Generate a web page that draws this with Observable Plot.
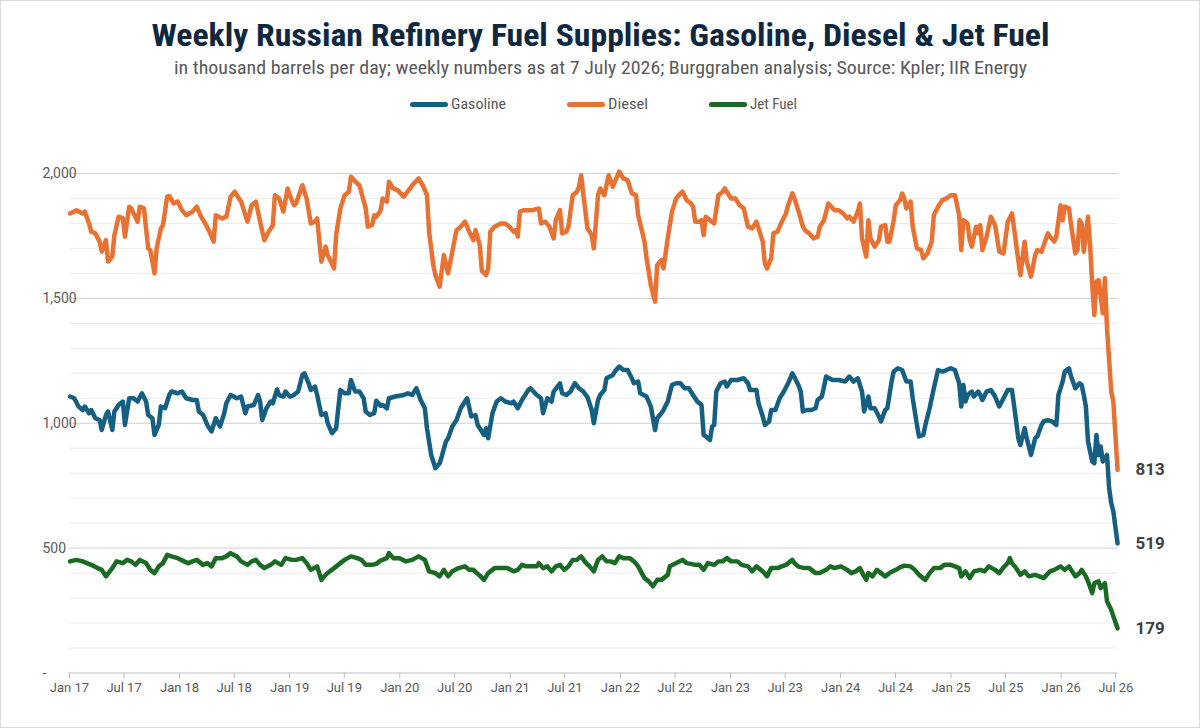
<!DOCTYPE html>
<html>
<head>
<meta charset="utf-8">
<script src="https://cdn.jsdelivr.net/npm/d3@7"></script>
<script src="https://cdn.jsdelivr.net/npm/@observablehq/plot@0.6"></script>
<style>
  html, body { margin: 0; padding: 0; background: #fff; }
  #frame { position: relative; width: 1200px; height: 728px; box-sizing: border-box; border: 1px solid #d9d9d9; overflow: hidden; font-family: "Liberation Sans Narrow", "Roboto Condensed", Roboto, sans-serif; }
  .row { position: absolute; left: -1px; width: 1200px; text-align: center; white-space: nowrap; }
  .fit { display: inline-block; transform-origin: center center; }
  #title { top: 15px; height: 40px; line-height: 40px; font-size: 31px; font-weight: bold; color: #0E2841; }
  #subtitle { top: 56px; height: 22px; line-height: 22px; font-size: 18px; color: #595959; }
  .lg-sw { position: absolute; height: 5px; border-radius: 3px; top: 101px; }
  .lg-tx { position: absolute; top: 94px; height: 18px; line-height: 18px; font-size: 14px; color: #595959; white-space: nowrap; transform-origin: left center; }
  #chart { position: absolute; left: -1px; top: 117px; }
</style>
</head>
<body>
<div id="frame">
  <div id="title" class="row"><span class="fit" data-w="898">Weekly Russian Refinery Fuel Supplies: Gasoline, Diesel &amp; Jet Fuel</span></div>
  <div id="subtitle" class="row"><span class="fit" data-w="853">in thousand barrels per day; weekly numbers as at 7 July 2026; Burggraben analysis; Source: Kpler; IIR Energy</span></div>
  <div id="legend"></div>
  <div id="chart"></div>
</div>
<script>
// ---------------- data (weeks counted from 3 Jan 2017; values in kb/d) ----------------
const seriesNames = ["Gasoline", "Diesel", "Jet Fuel"];
const seriesColors = ["#156082", "#E97132", "#196B24"];

const gasolineWeeks = [0,2,4,6,7,9,10,12,14,15,17,18,20,21,23,25,26,28,30,32,34,36,37,39,40,42,43,45,47,48,51,53,55,58,60,61,63,65,67,69,71,73,74,76,79,81,83,84,87,89,90,91,93,95,96,98,99,101,102,104,106,108,110,111,113,114,116,117,119,121,122,124,126,127,128,130,132,133,135,137,139,140,142,144,145,147,148,150,151,154,158,160,162,164,166,168,169,171,173,175,176,178,179,181,183,185,187,188,190,192,193,195,196,197,198,200,202,204,206,209,210,212,214,217,218,221,223,224,226,228,229,232,233,235,237,239,241,243,245,247,248,250,251,253,254,257,258,260,262,264,266,267,269,270,273,275,277,278,280,281,283,285,287,289,291,293,295,297,299,300,301,303,304,305,306,308,310,311,313,316,319,321,322,325,326,328,329,331,332,334,336,338,340,342,343,345,346,347,349,351,353,354,356,358,361,364,367,369,371,373,375,376,378,379,381,383,384,386,387,389,390,392,394,396,398,399,401,402,404,405,407,409,411,413,415,417,419,421,422,423,424,425,427,428,430,431,432,434,436,438,440,442,444,446,448,449,450,452,453,455,457,458,460,461,463,465,467,468,470,471,473,474,476,478,479,480,481,482,484,485,486,487,488,489,491,492,493,494,496];
const gasolineValues = [1107,1100,1067,1053,1067,1040,1053,1020,1013,973,1033,1047,973,1047,1073,1087,993,1100,1100,1087,1120,1087,1033,1020,953,993,1067,1060,1113,1127,1120,1127,1100,1093,1093,1047,1033,993,967,1020,987,1040,1080,1113,1100,1107,1040,1067,1073,1113,1087,1013,1060,1087,1080,1135,1113,1107,1127,1107,1113,1127,1193,1200,1160,1133,1147,1113,1033,1040,1000,960,980,1060,1133,1120,1120,1173,1127,1127,1100,1047,1033,1040,1090,1070,1073,1060,1100,1107,1113,1120,1113,1140,1093,1060,980,873,820,840,867,927,940,987,1013,1060,1087,1100,1027,1033,993,967,953,980,940,1040,1087,1100,1087,1080,1087,1060,1093,1133,1140,1113,1100,1040,1100,1087,1127,1160,1120,1113,1127,1160,1140,1127,1105,1053,1000,1093,1113,1133,1180,1193,1207,1227,1213,1213,1180,1160,1167,1120,1107,1067,973,1020,1040,1053,1087,1153,1160,1160,1140,1140,1113,1087,1073,953,947,933,987,993,1127,1160,1167,1147,1173,1173,1180,1160,1133,1133,1080,1027,993,1007,1053,1053,1100,1127,1160,1200,1185,1150,1127,1047,1053,1053,1060,1093,1107,1187,1173,1173,1167,1187,1167,1180,1127,1047,1107,1060,1060,1027,1007,1053,1060,1167,1207,1220,1213,1167,1167,1100,993,947,953,993,1060,1140,1213,1207,1213,1220,1213,1160,1067,1153,1087,1113,1127,1107,1127,1113,1093,1127,1133,1107,1067,1100,1133,1133,1007,940,913,980,940,873,940,947,993,1007,1013,1007,993,1113,1167,1207,1220,1187,1140,1160,1153,1113,1067,927,847,840,953,873,907,847,873,740,680,647,519];

const dieselWeeks = [0,3,6,7,9,10,12,14,15,17,18,20,21,23,25,26,28,29,32,33,35,37,38,40,41,43,44,46,47,49,51,53,55,58,60,62,64,66,68,69,72,74,76,78,80,81,84,86,88,90,92,94,96,97,99,101,103,104,106,107,110,112,114,116,117,119,121,122,125,126,128,130,132,133,136,137,140,141,143,144,145,147,148,150,151,153,155,158,161,162,165,167,169,170,172,173,175,177,179,181,183,185,187,189,191,192,194,195,197,198,199,201,204,206,208,210,211,212,213,215,219,222,223,225,227,229,230,232,233,235,236,238,240,241,242,243,245,246,247,248,250,251,253,255,257,260,262,264,266,268,269,272,273,275,277,278,280,281,283,285,287,289,290,292,294,295,296,298,299,300,301,303,305,307,309,310,313,315,317,319,321,323,325,326,328,329,330,332,333,335,337,339,340,342,343,345,347,348,350,352,354,355,357,359,362,364,366,368,369,371,373,374,375,377,378,379,381,383,384,386,387,388,390,391,393,394,395,396,398,399,401,403,404,406,408,409,411,413,415,417,419,421,422,423,425,426,427,429,430,431,432,434,436,438,440,442,444,446,447,449,450,452,453,455,457,458,460,461,463,464,466,467,469,470,471,473,474,476,477,478,479,480,482,483,484,485,486,487,489,490,491,493,494,496];
const dieselValues = [1840,1853,1840,1847,1800,1767,1760,1727,1687,1733,1647,1667,1753,1827,1820,1747,1867,1860,1807,1867,1860,1700,1693,1600,1700,1780,1793,1907,1910,1880,1887,1853,1833,1847,1867,1827,1800,1767,1727,1833,1820,1827,1907,1927,1900,1887,1807,1873,1887,1807,1733,1767,1793,1913,1900,1847,1940,1913,1873,1880,1953,1900,1800,1807,1820,1647,1707,1673,1620,1753,1860,1913,1927,1987,1960,1953,1860,1787,1793,1833,1827,1850,1900,1887,1967,1940,1933,1907,1940,1953,1980,1953,1913,1767,1633,1593,1547,1673,1600,1687,1773,1787,1807,1767,1733,1773,1713,1610,1593,1620,1767,1787,1800,1800,1787,1767,1773,1747,1847,1853,1853,1860,1800,1807,1787,1740,1813,1853,1760,1767,1787,1913,1927,1947,1993,1920,1780,1767,1753,1700,1913,1940,1913,1993,1947,2007,1980,1973,1920,1913,1833,1727,1660,1553,1487,1633,1653,1620,1740,1847,1900,1920,1927,1893,1880,1867,1807,1807,1813,1753,1827,1813,1800,1913,1927,1940,1900,1900,1873,1860,1787,1780,1807,1780,1727,1640,1620,1660,1760,1767,1807,1840,1873,1920,1900,1847,1787,1773,1760,1740,1747,1787,1813,1880,1853,1853,1840,1820,1827,1807,1847,1880,1740,1667,1813,1740,1707,1733,1787,1793,1727,1727,1813,1873,1893,1920,1900,1860,1887,1787,1700,1693,1660,1680,1727,1833,1867,1893,1900,1913,1913,1833,1693,1813,1800,1733,1707,1787,1760,1793,1693,1747,1827,1793,1687,1680,1807,1840,1780,1653,1593,1727,1647,1587,1673,1693,1687,1713,1760,1747,1727,1747,1873,1813,1867,1860,1793,1680,1693,1813,1800,1687,1827,1713,1553,1433,1567,1573,1440,1580,1380,1127,1087,813];

const jetWeeks = [0,3,6,8,10,13,15,17,20,22,25,27,29,31,33,36,38,40,42,44,46,48,51,54,56,58,60,63,65,67,69,72,74,76,79,81,84,86,88,90,92,95,97,100,102,105,107,110,112,114,117,119,121,123,125,128,130,133,136,138,140,143,145,147,150,151,153,156,159,162,165,168,170,173,175,177,179,181,184,187,189,191,194,196,198,201,204,207,210,212,214,216,218,221,222,224,226,228,230,232,234,236,238,240,242,244,246,248,250,252,254,256,258,260,262,265,267,269,272,274,276,278,280,283,284,287,290,292,294,296,298,300,302,305,307,309,311,313,316,318,321,323,325,328,330,332,335,337,339,342,343,345,348,350,353,355,358,360,362,365,368,370,372,374,376,377,378,380,382,384,386,388,391,393,395,398,400,402,405,407,409,412,414,417,419,421,422,424,426,428,431,433,435,438,440,442,444,445,446,448,450,452,454,457,459,461,464,466,469,471,473,476,478,479,481,482,484,485,487,488,490,491,493,494,496];
const jetValues = [447,453,447,440,433,420,413,387,420,447,440,453,447,433,453,440,413,400,427,440,473,467,460,447,440,447,453,433,440,427,460,460,467,480,467,447,433,447,453,433,420,433,447,433,460,453,453,460,440,413,427,373,393,407,420,440,453,467,460,453,433,433,437,450,460,480,460,460,447,453,467,453,407,400,387,413,387,407,420,427,413,413,390,373,400,420,420,420,407,413,433,427,427,427,440,420,427,407,427,433,413,427,453,453,467,443,427,407,453,467,447,447,440,467,460,460,447,427,380,367,347,373,373,393,427,440,453,440,437,433,433,413,440,433,447,447,460,447,447,433,427,407,427,407,387,420,420,427,433,453,440,425,420,420,400,400,413,427,420,427,413,400,407,420,387,373,400,387,413,400,387,400,413,423,430,427,413,393,373,400,420,420,433,433,427,420,387,407,380,407,413,407,427,413,400,423,440,460,440,420,393,407,387,393,387,380,407,413,427,413,427,387,400,413,387,367,320,360,367,340,360,287,253,227,179];

const yTicks = [0, 500, 1000, 1500, 2000];
const yTickLabels = ["-", "500", "1,000", "1,500", "2,000"];
const xTickLabels = ["Jan 17","Jul 17","Jan 18","Jul 18","Jan 19","Jul 19","Jan 20","Jul 20","Jan 21","Jul 21","Jan 22","Jul 22","Jan 23","Jul 23","Jan 24","Jul 24","Jan 25","Jul 25","Jan 26","Jul 26"];

// ---------------- build tables ----------------
const weekDate = w => new Date(Date.UTC(2017, 0, 3 + 7 * w));
function toRows(name, weeks, values) {
  return weeks.map((w, i) => ({series: name, date: weekDate(w), value: values[i]}));
}
const gasoline = toRows("Gasoline", gasolineWeeks, gasolineValues);
const diesel = toRows("Diesel", dieselWeeks, dieselValues);
const jet = toRows("Jet Fuel", jetWeeks, jetValues);
const allRows = gasoline.concat(diesel, jet);
const lastPoints = [gasoline, diesel, jet].map(s => s[s.length - 1]);

const monthIdx = {Jan: 0, Jul: 6};
const xTicks = xTickLabels.map(l => {
  const [m, y] = l.split(" ");
  return {date: new Date(Date.UTC(2000 + +y, monthIdx[m], 1)), label: l};
});
const minorY = d3.range(100, 2000, 100).filter(v => v % 500 !== 0);
const yLab = yTicks.map((v, i) => ({value: v, label: yTickLabels[i]}));

const chart = Plot.plot({
  width: 1200,
  height: 611,
  marginLeft: 69,
  marginRight: 82,
  marginTop: 55,
  marginBottom: 56,
  x: {type: "utc", domain: [new Date(Date.UTC(2017, 0, 1)), new Date(Date.UTC(2026, 6, 7))], axis: null},
  y: {domain: [0, 2000], axis: null},
  color: {domain: seriesNames, range: seriesColors},
  style: {fontFamily: "Roboto, 'Open Sans', sans-serif", fontSize: "14px", color: "#595959", background: "white", overflow: "visible"},
  marks: [
    Plot.ruleY(minorY, {stroke: "#ececec", strokeWidth: 1}),
    Plot.ruleY(yTicks.filter(v => v > 0), {stroke: "#d0d0d0", strokeWidth: 1}),
    Plot.ruleY([0], {stroke: "#bfbfbf", strokeWidth: 1}),
    Plot.axisX({ticks: xTicks.map(d => d.date), tickSize: 6, tickFormat: () => "", color: "#bfbfbf"}),
    Plot.text(xTicks, {x: "date", frameAnchor: "bottom", dy: 19, text: "label", fill: "#595959", fontSize: 13}),
    Plot.text(yLab, {y: "value", frameAnchor: "left", textAnchor: "start", dx: -27, text: "label", fill: "#595959", fontSize: 14}),
    Plot.lineY(allRows, {x: "date", y: "value", z: "series", stroke: "series", strokeWidth: 4.5, strokeLinejoin: "round", strokeLinecap: "round"}),
    Plot.text(lastPoints, {x: "date", y: "value", text: d => String(d.value), dx: 18, textAnchor: "start", fontWeight: "bold", fontSize: 17, fill: "#404040"})
  ]
});
document.getElementById("chart").appendChild(chart);

// ---------------- legend ----------------
const legendPos = [{sw: [409, 447], tx: 450, w: 55}, {sw: [566, 604], tx: 607, w: 40}, {sw: [708, 746], tx: 749, w: 47}];
const legend = document.getElementById("legend");
seriesNames.forEach((name, i) => {
  const p = legendPos[i];
  const sw = document.createElement("div");
  sw.className = "lg-sw";
  sw.style.left = p.sw[0] + "px";
  sw.style.width = (p.sw[1] - p.sw[0]) + "px";
  sw.style.background = seriesColors[i];
  legend.appendChild(sw);
  const tx = document.createElement("div");
  tx.className = "lg-tx fitL";
  tx.dataset.w = p.w;
  tx.style.left = p.tx + "px";
  tx.textContent = name;
  legend.appendChild(tx);
});

// fit narrow-font text widths
document.querySelectorAll(".fit, .fitL").forEach(el => {
  const w = el.getBoundingClientRect().width;
  const target = +el.dataset.w;
  if (w > 0) el.style.transform = `scaleX(${target / w})`;
});
</script>
</body>
</html>
